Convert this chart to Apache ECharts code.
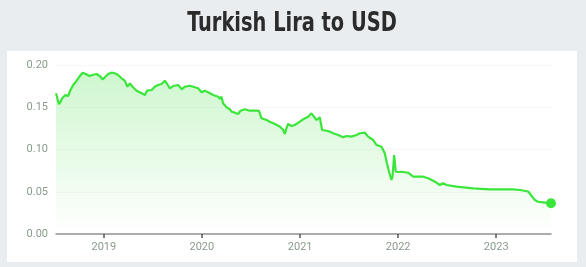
<!DOCTYPE html>
<html>
<head>
<meta charset="utf-8">
<script src="https://cdn.jsdelivr.net/npm/echarts@6/dist/echarts.min.js"></script>
<style>
html,body{margin:0;padding:0;background:#e9edf0;}
#chart{width:586px;height:267px;}
</style>
</head>
<body>
<div id="chart"></div>
<script>
const dates = [
'2018-07-07','2018-07-12','2018-07-18','2018-07-24','2018-07-30','2018-08-05','2018-08-11','2018-08-21','2018-08-30','2018-09-09',
'2018-09-22','2018-10-04','2018-10-14','2018-10-26','2018-11-08','2018-11-22','2018-12-05','2018-12-17','2018-12-27','2019-01-05',
'2019-01-17','2019-01-30','2019-02-11','2019-02-23','2019-03-08','2019-03-20','2019-03-30','2019-04-08','2019-04-18','2019-05-03',
'2019-05-22','2019-06-03','2019-06-11','2019-06-28','2019-07-10','2019-07-22','2019-08-04','2019-08-16','2019-08-25','2019-09-04',
'2019-09-16','2019-10-05','2019-10-18','2019-10-30','2019-11-17','2019-12-06','2019-12-18','2019-12-31','2020-01-12','2020-01-28',
'2020-02-12','2020-03-02','2020-03-08','2020-03-14','2020-03-20','2020-04-02','2020-04-14','2020-04-21','2020-05-03','2020-05-15',
'2020-05-24','2020-06-09','2020-06-28','2020-07-23','2020-08-01','2020-08-10','2020-08-29','2020-09-10','2020-09-29','2020-10-18',
'2020-10-30','2020-11-05','2020-11-11','2020-11-17','2020-11-30','2020-12-12','2020-12-31','2021-01-12','2021-01-31','2021-02-12',
'2021-02-18','2021-03-03','2021-03-15','2021-03-24','2021-04-09','2021-04-22','2021-05-04','2021-05-23','2021-06-10','2021-06-23',
'2021-07-11','2021-07-30','2021-08-11','2021-08-30','2021-09-11','2021-09-30','2021-10-13','2021-10-31','2021-11-12','2021-11-20',
'2021-11-28','2021-12-07','2021-12-11','2021-12-17','2021-12-23','2022-01-01','2022-01-14','2022-02-07','2022-02-26','2022-04-04',
'2022-04-23','2022-05-18','2022-06-05','2022-06-17','2022-06-30','2022-08-06','2022-10-07','2022-12-08','2023-03-05','2023-03-30',
'2023-04-30','2023-05-13','2023-05-25','2023-06-06','2023-06-25','2023-07-24'
];
const rates = [
0.1665,0.1657,0.1535,0.1566,0.1606,0.1586,0.1645,0.1633,0.1704,0.1763,
0.1814,0.1870,0.1909,0.1893,0.1870,0.1885,0.1893,0.1870,0.1831,0.1854,
0.1893,0.1909,0.1902,0.1882,0.1843,0.1814,0.1743,0.1783,0.1743,0.1696,
0.1665,0.1645,0.1696,0.1704,0.1743,0.1763,0.1775,0.1814,0.1775,0.1724,
0.1751,0.1763,0.1712,0.1743,0.1755,0.1736,0.1724,0.1677,0.1696,0.1672,
0.1645,0.1625,0.1598,0.1625,0.1547,0.1499,0.1476,0.1447,0.1436,0.1420,
0.1459,0.1476,0.1459,0.1459,0.1456,0.1369,0.1349,0.1329,0.1302,0.1270,
0.1231,0.1183,0.1251,0.1302,0.1278,0.1290,0.1329,0.1357,0.1388,0.1428,
0.1436,0.1349,0.1381,0.1231,0.1222,0.1211,0.1192,0.1172,0.1144,0.1160,
0.1152,0.1172,0.1192,0.1199,0.1152,0.1112,0.1053,0.1033,0.0955,0.0840,
0.0737,0.0639,0.0678,0.0935,0.0737,0.0734,0.0737,0.0725,0.0678,0.0678,
0.0659,0.0619,0.0580,0.0600,0.0580,0.0560,0.0541,0.0529,0.0529,0.0521,
0.0503,0.0450,0.0402,0.0382,0.0375,0.0363
];
const titleText = 'Turkish Lira to USD';
const axisMin = '2018-07-07';
const axisMax = '2023-07-24';

const seriesData = dates.map(function (d, i) {
  const item = { value: [d, rates[i]] };
  if (i === dates.length - 1) {
    item.symbol = 'circle';
    item.symbolSize = 10;
  }
  return item;
});

const chart = echarts.init(document.getElementById('chart'), null, { renderer: 'canvas' });
chart.setOption({
  backgroundColor: '#e9edf0',
  animation: false,
  graphic: [
    { type: 'rect', z: -10, shape: { x: 7, y: 51, width: 570, height: 211 }, style: { fill: '#ffffff' } },
    { type: 'text', x: 292, y: 24, scaleX: 0.83, scaleY: 1,
      style: { text: titleText, fill: '#2b2b2b', align: 'center', verticalAlign: 'middle',
               font: 'bold 26px "DejaVu Sans Condensed", sans-serif' } }
  ],
  grid: { left: 56, right: 35, top: 65, bottom: 33 },
  xAxis: {
    type: 'time',
    min: axisMin,
    max: axisMax,
    splitNumber: 5,
    axisLine: { lineStyle: { color: '#8f9494', width: 1.5 } },
    axisTick: { show: true, length: 4, lineStyle: { color: '#555', width: 1.5 } },
    axisLabel: {
      color: '#8a9a8c', fontSize: 11, fontFamily: 'Roboto', margin: 8,
      formatter: function (v) { return echarts.time.format(v, '{yyyy}', false); },
      showMinLabel: false, showMaxLabel: false
    },
    splitLine: { show: false },
    minorTick: { show: false }
  },
  yAxis: {
    type: 'value',
    min: 0,
    max: 0.2,
    interval: 0.05,
    axisLine: { show: false },
    axisTick: { show: false },
    axisLabel: {
      color: '#8a9a8c', fontSize: 11, fontFamily: 'Roboto', margin: 8,
      formatter: function (v) { return v.toFixed(2); }
    },
    splitLine: { lineStyle: { color: '#eef0ee', type: 'dotted', width: 1 } }
  },
  series: [{
    type: 'line',
    data: seriesData,
    symbol: 'none',
    showSymbol: true,
    showAllSymbol: true,
    smooth: false,
    itemStyle: { color: '#3be63b' },
    lineStyle: { color: '#3be63b', width: 2.2 },
    areaStyle: {
      color: new echarts.graphic.LinearGradient(0, 0, 0, 1, [
        { offset: 0, color: 'rgba(140,235,140,0.6)' },
        { offset: 1, color: 'rgba(140,235,140,0.0)' }
      ])
    }
  }]
});
</script>
</body>
</html>
